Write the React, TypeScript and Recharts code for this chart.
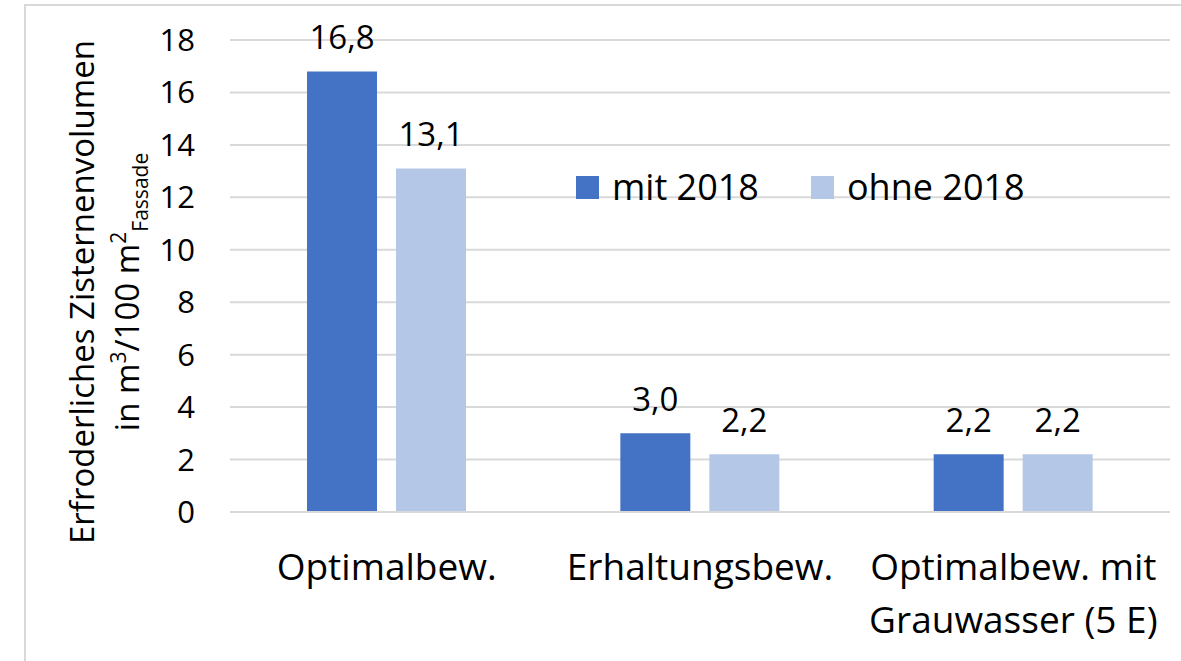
import React from "react";
import { BarChart, Bar, XAxis, YAxis, CartesianGrid, LabelList, Label } from "recharts";

const categories = ["Optimalbew.", "Erhaltungsbew.", "Optimalbew. mit\nGrauwasser (5 E)"];
const mit2018 = [16.8, 3.0, 2.2];
const ohne2018 = [13.1, 2.2, 2.2];
const yTicks = [0, 2, 4, 6, 8, 10, 12, 14, 16, 18];

const data = categories.map((c, i) => ({ name: c, mit: mit2018[i], ohne: ohne2018[i] }));

const FONT = "'Open Sans', sans-serif";
const DARK = "#4472C4";
const LIGHT = "#B4C7E7";

const fmt = (v: any) => Number(v).toFixed(1).replace(".", ",");

const XTick = (props: any) => {
  const { x, y, payload } = props;
  const lines = String(payload.value).split("\n");
  return (
    <text x={x} y={y} textAnchor="middle" fontFamily={FONT} fontSize={37} fill="#000">
      {lines.map((l, i) => (
        <tspan key={i} x={x} dy={i === 0 ? 60 : 53}>{l}</tspan>
      ))}
    </text>
  );
};

const YTitle = () => {
  const cy = 292;
  return (
    <g fontFamily={FONT} fontSize={33} fill="#000">
      <text transform={`translate(94, ${cy}) rotate(-90)`} textAnchor="middle">
        Erfroderliches Zisternenvolumen
      </text>
      <text transform={`translate(139, ${cy}) rotate(-90)`} textAnchor="middle">
        <tspan>in m</tspan>
        <tspan fontSize={21} dy={-13}>3</tspan>
        <tspan dy={13}>/100 m</tspan>
        <tspan fontSize={21} dy={-13}>2</tspan>
        <tspan fontSize={21} dy={22}>Fassade</tspan>
      </text>
    </g>
  );
};

const LegendBox = () => (
  <div style={{ position: "absolute", left: 576, top: 169, display: "flex", alignItems: "center", fontFamily: FONT, fontSize: 36, lineHeight: "36px", color: "#000", whiteSpace: "nowrap" }}>
    <span style={{ width: 23, height: 23, background: DARK, display: "inline-block", marginRight: 13 }} />
    <span style={{ marginRight: 52 }}>mit 2018</span>
    <span style={{ width: 23, height: 23, background: LIGHT, display: "inline-block", marginRight: 13 }} />
    <span>ohne 2018</span>
  </div>
);

export default function App() {
  return (
    <div style={{ position: "absolute", left: 0, top: 0, width: 1181, height: 661, background: "#fff", overflow: "hidden" }}>
      <div style={{ position: "absolute", left: 24, top: 4, width: 1200, height: 700, border: "2px solid #d9d9d9", boxSizing: "border-box" }} />
      <div style={{ position: "absolute", left: 0, top: 0 }}>
        <BarChart
          width={1181}
          height={661}
          data={data}
          margin={{ top: 40, right: 11, bottom: 0, left: 0 }}
          barCategoryGap={77}
          barGap={19}
        >
          <CartesianGrid vertical={false} stroke="#d9d9d9" strokeWidth={2} />
          <XAxis dataKey="name" height={149} tickLine={false} axisLine={{ stroke: "#d9d9d9", strokeWidth: 2 }} tick={<XTick />} interval={0} />
          <YAxis
            width={230}
            domain={[0, 18]}
            ticks={yTicks}
            tickLine={false}
            axisLine={false}
            tickSize={0}
            tickMargin={35}
            tick={{ fontFamily: FONT, fontSize: 31, fill: "#000" }}
          >
            <Label content={<YTitle />} />
          </YAxis>
          <Bar dataKey="mit" name="mit 2018" fill={DARK} isAnimationActive={false}>
            <LabelList dataKey="mit" position="top" offset={22} formatter={fmt} fontFamily={FONT} fontSize={33} fill="#000" />
          </Bar>
          <Bar dataKey="ohne" name="ohne 2018" fill={LIGHT} isAnimationActive={false}>
            <LabelList dataKey="ohne" position="top" offset={22} formatter={fmt} fontFamily={FONT} fontSize={33} fill="#000" />
          </Bar>
        </BarChart>
      </div>
      <LegendBox />
    </div>
  );
}
